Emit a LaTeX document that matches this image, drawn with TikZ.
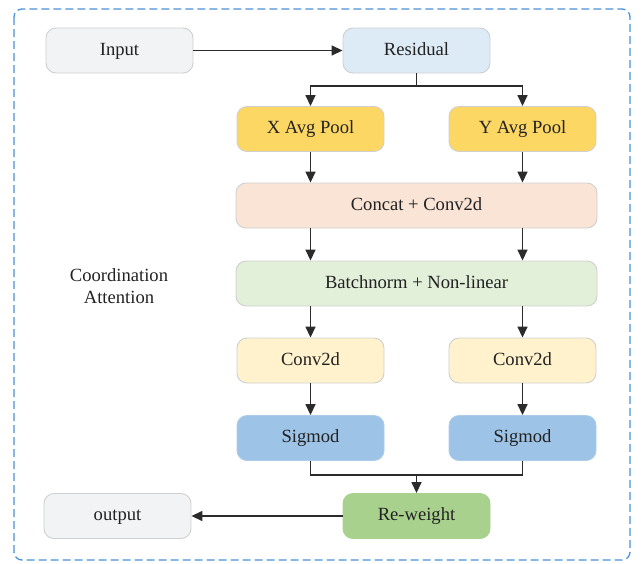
\documentclass[tikz,border=0pt]{standalone}
\usepackage{fontspec}
\setmainfont{Liberation Serif}
\usetikzlibrary{arrows.meta}
\definecolor{inputfill}{HTML}{F2F3F5}
\definecolor{resfill}{HTML}{DDEBF6}
\definecolor{poolfill}{HTML}{FDD764}
\definecolor{concatfill}{HTML}{FAE4D6}
\definecolor{bnfill}{HTML}{E2EFD9}
\definecolor{convfill}{HTML}{FFF2CC}
\definecolor{sigfill}{HTML}{9DC3E6}
\definecolor{rwfill}{HTML}{A9D18E}
\definecolor{edgegray}{HTML}{CFCFCF}
\definecolor{linkcol}{HTML}{2B2B2B}
\definecolor{framecol}{HTML}{4A92DA}
\definecolor{txtcol}{HTML}{222222}
\tikzset{
  box/.style={draw=edgegray, line width=0.9pt, rounded corners=10pt,
    minimum height=45pt, inner sep=0pt, text=txtcol,
    text height=12pt, text depth=3pt,
    font=\fontsize{18.6}{21}\selectfont},
  smallbox/.style={box, minimum width=147pt},
  widebox/.style={box, minimum width=361pt},
  link/.style={draw=linkcol, line width=1.5pt,
    -{Triangle[length=11pt,width=10pt]}},
  plainlink/.style={draw=linkcol, line width=1.5pt}
}
\begin{document}
\begin{tikzpicture}[x=1pt,y=-1pt]
\useasboundingbox (0,0) rectangle (642,563);
% outer dashed frame
\draw[framecol, line width=1.3pt, dash pattern=on 8pt off 4pt, rounded corners=8pt]
  (14,9) rectangle (630,560);

% nodes
\node[smallbox, fill=inputfill] (input) at (119.5,50.5) {Input};
\node[smallbox, fill=resfill] (res) at (416.5,50.5) {Residual};
\node[smallbox, fill=poolfill] (xpool) at (310.5,129) {X Avg Pool};
\node[smallbox, fill=poolfill] (ypool) at (522.5,129) {Y Avg Pool};
\node[widebox, fill=concatfill] (concat) at (416.5,205.5) {Concat + Conv2d};
\node[widebox, fill=bnfill] (bn) at (416.5,283.5) {Batchnorm + Non-linear};
\node[smallbox, fill=convfill] (convl) at (310.5,360.5) {Conv2d};
\node[smallbox, fill=convfill] (convr) at (522.5,360.5) {Conv2d};
\node[smallbox, fill=sigfill, draw=sigfill!85!white] (sigl) at (310.5,438) {Sigmod};
\node[smallbox, fill=sigfill, draw=sigfill!85!white] (sigr) at (522.5,438) {Sigmod};
\node[smallbox, fill=rwfill, draw=rwfill] (rw) at (416.5,516) {Re-weight};
\node[smallbox, fill=inputfill, draw=edgegray] (out) at (117.5,516) {output};
\node[align=center, text=txtcol, font=\fontsize{18.6}{22}\selectfont] (ca) at (119,286)
  {Coordination\\Attention};

% split and merge points
\coordinate (split) at (416.5,86);
\coordinate (merge) at (416.5,475);

% connectors
\draw[link] (input) -- (res);
\draw[plainlink] (res.south) -- (split);
\draw[link] (split) -| (xpool.north);
\draw[link] (split) -| (ypool.north);
\draw[link] (xpool.south) -- (xpool.south |- concat.north);
\draw[link] (ypool.south) -- (ypool.south |- concat.north);
\draw[link] (xpool.south |- concat.south) -- (xpool.south |- bn.north);
\draw[link] (ypool.south |- concat.south) -- (ypool.south |- bn.north);
\draw[link] (convl.north |- bn.south) -- (convl.north);
\draw[link] (convr.north |- bn.south) -- (convr.north);
\draw[link] (convl) -- (sigl);
\draw[link] (convr) -- (sigr);
\draw[plainlink] (sigl.south) |- (merge);
\draw[plainlink] (sigr.south) |- (merge);
\draw[link] (merge) -- (rw.north);
\draw[link] (rw) -- (out);
\end{tikzpicture}
\end{document}
